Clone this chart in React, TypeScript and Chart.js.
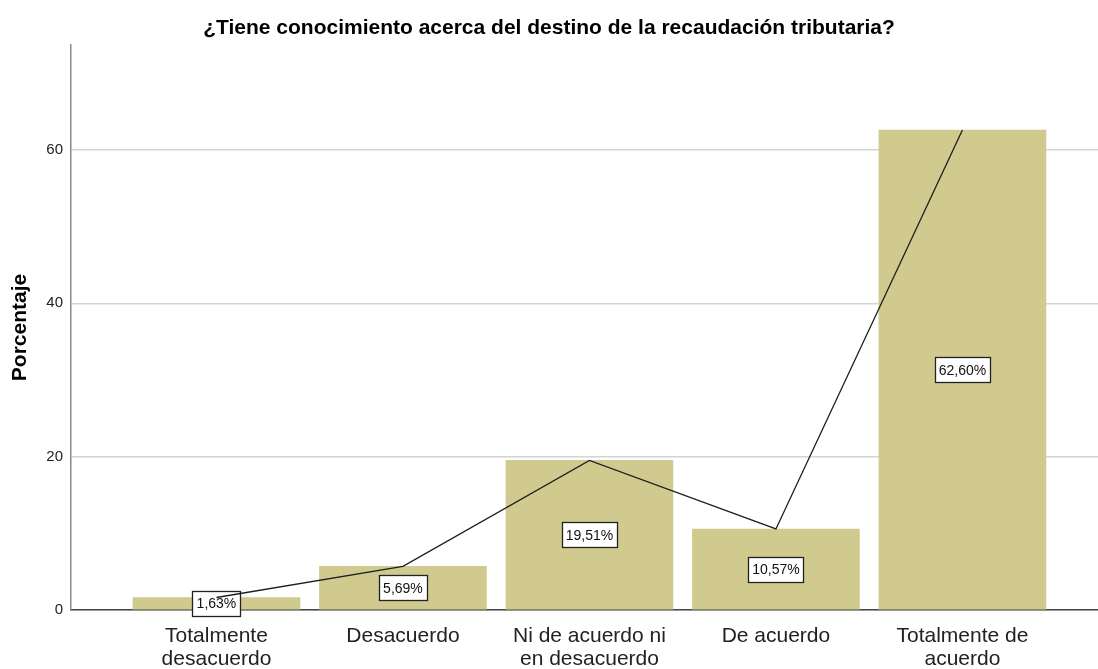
import React, { useEffect, useRef } from "react";
import { Chart, registerables } from "chart.js";

Chart.register(...registerables);

const chartTitle = "¿Tiene conocimiento acerca del destino de la recaudación tributaria?";
const yAxisTitle = "Porcentaje";
const categories: string[][] = [
  ["Totalmente", "desacuerdo"],
  ["Desacuerdo"],
  ["Ni de acuerdo ni", "en desacuerdo"],
  ["De acuerdo"],
  ["Totalmente de", "acuerdo"],
];
const percentages = [1.63, 5.69, 19.51, 10.57, 62.6];
const valueLabels = ["1,63%", "5,69%", "19,51%", "10,57%", "62,60%"];
const yTicks = [0, 20, 40, 60];

const FONT = "'Liberation Sans', Arial, sans-serif";

const labelPlugin = {
  id: "valueLabels",
  afterDatasetDraw(chart: any, args: any) {
    if (args.meta.type !== "bar") return;
    const ctx = chart.ctx;
    ctx.save();
    ctx.font = `14px ${FONT}`;
    ctx.textAlign = "center";
    ctx.textBaseline = "middle";
    args.meta.data.forEach((el: any, i: number) => {
      const text = valueLabels[i];
      const cx = el.x;
      const cy = (el.y + el.base) / 2;
      const tw = ctx.measureText(text).width;
      const w = Math.round(tw + 8);
      const h = 25;
      const x0 = Math.round(cx - w / 2) + 0.5;
      const y0 = Math.round(cy - h / 2) + 0.5;
      ctx.fillStyle = "#ffffff";
      ctx.fillRect(x0, y0, w, h);
      ctx.strokeStyle = "#222";
      ctx.lineWidth = 1.3;
      ctx.strokeRect(x0, y0, w, h);
      ctx.fillStyle = "#111";
      ctx.fillText(text, cx, cy + 1);
    });
    ctx.restore();
  },
};

export default function App() {
  const ref = useRef<HTMLCanvasElement | null>(null);

  useEffect(() => {
    document.body.style.margin = "0";
    const canvas = ref.current;
    if (!canvas) return;
    const points = percentages.map((v, i) => ({ x: i, y: v }));
    const chart = new Chart(canvas, {
      type: "bar",
      data: {
        datasets: [
          {
            type: "line",
            data: points,
            borderColor: "#1e1e1e",
            borderWidth: 1.3,
            pointRadius: 0,
            tension: 0,
            order: 1,
          } as any,
          {
            type: "bar",
            data: points,
            backgroundColor: "#d1ca8f",
            barThickness: 167,
            order: 2,
          } as any,
        ],
      },
      options: {
        animation: false,
        responsive: false,
        maintainAspectRatio: false,
        layout: { padding: 0 },
        plugins: {
          legend: { display: false },
          tooltip: { enabled: false },
          title: {
            display: true,
            text: chartTitle,
            color: "#000",
            font: { family: FONT, size: 21, weight: "bold", lineHeight: 1 },
            padding: { top: 18, bottom: 6 },
          },
        },
        scales: {
          x: {
            type: "linear",
            min: -0.78,
            max: 4.727,
            offset: false,
            grid: { display: false, drawTicks: false, offset: false },
            border: { color: "#444", width: 1.5 },
            afterBuildTicks: (s: any) => {
              s.ticks = categories.map((_, i) => ({ value: i }));
            },
            afterFit: (s: any) => {
              s.height = 59;
            },
            ticks: {
              autoSkip: false,
              maxRotation: 0,
              minRotation: 0,
              padding: 14,
              color: "#222",
              font: { family: FONT, size: 21, lineHeight: 1.12 },
              callback: (v: any) => categories[v] ?? "",
            },
          },
          y: {
            min: 0,
            max: 73.7,
            grid: { color: "#d4d4d4", lineWidth: 1.5, drawTicks: false },
            border: { color: "#8a8a8a", width: 1.5 },
            afterBuildTicks: (s: any) => {
              s.ticks = yTicks.map((v) => ({ value: v }));
            },
            afterFit: (s: any) => {
              s.width = 71;
            },
            ticks: {
              padding: 8,
              color: "#222",
              font: { family: FONT, size: 15 },
            },
            title: {
              display: true,
              text: yAxisTitle,
              color: "#000",
              font: { family: FONT, size: 21, weight: "bold", lineHeight: 1.2 },
              padding: { top: 8, bottom: 0 },
            },
          },
        },
      },
      plugins: [labelPlugin],
    });
    return () => chart.destroy();
  }, []);

  return (
    <div style={{ width: 1098, height: 669 }}>
      <canvas ref={ref} width={1098} height={669} />
    </div>
  );
}
